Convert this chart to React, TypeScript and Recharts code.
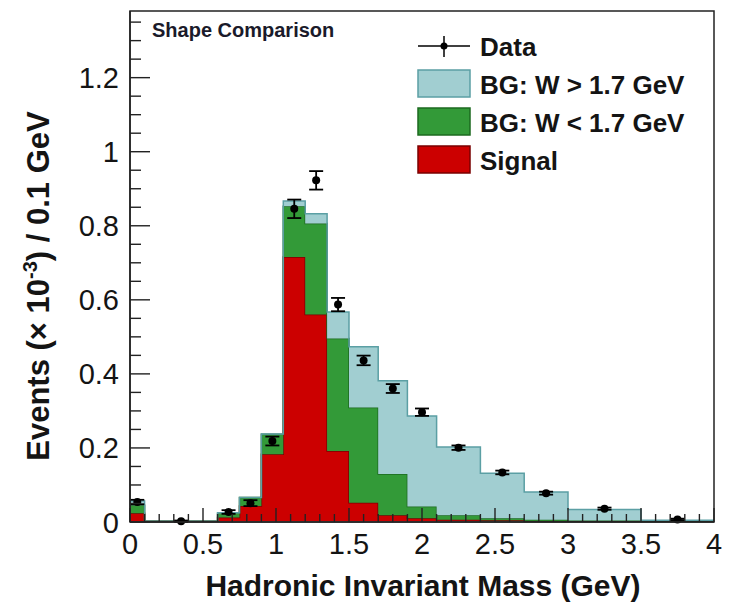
import React from "react";
import { ComposedChart, Area, Scatter, ErrorBar, XAxis, YAxis } from "recharts";

// Histogram bin edges (GeV) and stacked component heights (x10^-3 events / 0.1 GeV)
const binEdges = [0, 0.1, 0.6, 0.75, 0.9, 1.05, 1.2, 1.35, 1.5, 1.7, 1.9, 2.1, 2.4, 2.7, 3.0, 3.5, 4.0];
const signal = [0.022, 0, 0.010, 0.041, 0.181, 0.715, 0.559, 0.190, 0.050, 0.016, 0.008, 0.004, 0.003, 0.001, 0.0, 0.0];
const bgLow = [0.021, 0, 0.012, 0.023, 0.054, 0.137, 0.246, 0.304, 0.258, 0.112, 0.032, 0.012, 0.005, 0.003, 0.002, 0.001];
const bgHigh = [0.012, 0, 0.001, 0, 0.001, 0.014, 0.027, 0.072, 0.164, 0.252, 0.245, 0.185, 0.122, 0.075, 0.030, 0.002];

// Data points
const dataX = [0.05, 0.35, 0.675, 0.825, 0.975, 1.125, 1.275, 1.425, 1.6, 1.8, 2.0, 2.25, 2.55, 2.85, 3.25, 3.75];
const dataY = [0.052, 0.0, 0.025, 0.049, 0.217, 0.845, 0.922, 0.586, 0.435, 0.359, 0.295, 0.199, 0.132, 0.076, 0.034, 0.005];
const dataErr = [0.006, 0.002, 0.005, 0.008, 0.012, 0.025, 0.025, 0.018, 0.013, 0.012, 0.010, 0.006, 0.005, 0.004, 0.003, 0.002];

// Axis ticks
const xTicks = Array.from({ length: 41 }, (_, i) => +(i * 0.1).toFixed(2));
const yTicks = Array.from({ length: 28 }, (_, i) => +(i * 0.05).toFixed(2));
const xMajorStep = 0.5;
const yMajorStep = 0.2;
const xDomain = [0, 4];
const yDomain = [0, 1.38];

const legendLabels = ["Data", "BG: W > 1.7 GeV", "BG: W < 1.7 GeV", "Signal"];
const titleText = "Shape Comparison";
const xTitle = "Hadronic Invariant Mass (GeV)";

const histData = binEdges.map((x, i) => {
  const j = Math.min(i, signal.length - 1);
  return { x, signal: signal[j], bgLow: bgLow[j], bgHigh: bgHigh[j] };
});
const pointData = dataX.map((x, i) => ({ x, y: dataY[i], err: dataErr[i] }));

const FONT = "'Liberation Sans', Arial, Helvetica, sans-serif";
const TXT = "#141414";

const W = 736;
const H = 605;
const PL = 130;
const PR = 714;
const PT = 11;
const PB = 522;
const YAXW = 60;
const XAXH = 40;
const MARGIN = { top: PT, right: W - PR, left: PL - YAXW, bottom: H - PB - XAXH };

const isMajor = (v: number, step: number) => Math.abs(v / step - Math.round(v / step)) < 1e-6;

const XTick = (props: any) => {
  const { x, y, payload } = props;
  const v = payload.value;
  const major = isMajor(v, xMajorStep);
  return (
    <g>
      <line x1={x} y1={y} x2={x} y2={y - (major ? 14 : 8)} stroke="#222" strokeWidth={1.4} />
      {major && (
        <text x={x} y={y + 32} textAnchor="middle" fontSize={29} fontFamily={FONT} fill={TXT}>
          {String(v)}
        </text>
      )}
    </g>
  );
};

const YTick = (props: any) => {
  const { x, y, payload } = props;
  const v = payload.value;
  const major = isMajor(v, yMajorStep);
  return (
    <g>
      <line x1={x} y1={y} x2={x + (major ? 20 : 11)} y2={y} stroke="#222" strokeWidth={1.4} />
      {major && (
        <text x={x - 11} y={y + 10.5} textAnchor="end" fontSize={29} fontFamily={FONT} fill={TXT}>
          {String(v)}
        </text>
      )}
    </g>
  );
};

const Dot = (p: any) => <circle cx={p.cx} cy={p.cy} r={4} fill="#000" />;

const axes = (withTicks: boolean) => [
  <XAxis
    key="xa"
    type="number"
    dataKey="x"
    domain={xDomain}
    ticks={xTicks}
    interval={0}
    height={XAXH}
    tickSize={0}
    tickMargin={0}
    tickLine={false}
    axisLine={withTicks ? { stroke: "#222", strokeWidth: 1.5 } : false}
    tick={withTicks ? (p: any) => <XTick {...p} /> : false}
  />,
  <YAxis
    key="ya"
    type="number"
    domain={yDomain}
    ticks={yTicks}
    interval={0}
    width={YAXW}
    tickSize={0}
    tickMargin={0}
    tickLine={false}
    axisLine={withTicks ? { stroke: "#222", strokeWidth: 1.5 } : false}
    tick={withTicks ? (p: any) => <YTick {...p} /> : false}
  />,
];

export default function App() {
  return (
    <div style={{ position: "absolute", left: 0, top: 0, width: W, height: H, background: "#fff" }}>
      <ComposedChart width={W} height={H} data={histData} margin={MARGIN}>
        {axes(false)}
        <Area
          type="stepAfter"
          dataKey="signal"
          stackId="h"
          fill="#cc0000"
          fillOpacity={1}
          stroke="#7a0000"
          strokeWidth={1.5}
          dot={false}
          activeDot={false}
          isAnimationActive={false}
        />
        <Area
          type="stepAfter"
          dataKey="bgLow"
          stackId="h"
          fill="#339a38"
          fillOpacity={1}
          stroke="#1c6a1f"
          strokeWidth={1.5}
          dot={false}
          activeDot={false}
          isAnimationActive={false}
        />
        <Area
          type="stepAfter"
          dataKey="bgHigh"
          stackId="h"
          fill="#a1ced1"
          fillOpacity={1}
          stroke="#5b9fa4"
          strokeWidth={1.5}
          dot={false}
          activeDot={false}
          isAnimationActive={false}
        />
        <Scatter data={pointData} dataKey="y" shape={<Dot />} isAnimationActive={false}>
          <ErrorBar dataKey="err" direction="y" width={7} stroke="#000" strokeWidth={1.8} isAnimationActive={false} />
        </Scatter>
      </ComposedChart>
      {/* Axes layer drawn over the histogram, as in the original (ticks point inward) */}
      <div style={{ position: "absolute", left: 0, top: 0, pointerEvents: "none" }}>
        <ComposedChart width={W} height={H} data={histData} margin={MARGIN}>
          {axes(true)}
          <Area
            type="stepAfter"
            dataKey="signal"
            fill="none"
            stroke="none"
            dot={false}
            activeDot={false}
            isAnimationActive={false}
          />
        </ComposedChart>
      </div>
      <svg
        width={W}
        height={H}
        style={{ position: "absolute", left: 0, top: 0, pointerEvents: "none" }}
      >
        <rect x={PL} y={PT} width={PR - PL} height={PB - PT} fill="none" stroke="#222" strokeWidth={1.5} />
        <text x={152} y={37} fontSize={20} fontWeight="bold" fontFamily={FONT} fill="#1a1a2a">
          {titleText}
        </text>
        {/* Legend */}
        <line x1={418} y1={46} x2={470} y2={46} stroke="#000" strokeWidth={1.5} />
        <line x1={444} y1={36} x2={444} y2={57} stroke="#000" strokeWidth={1.5} />
        <circle cx={444} cy={46} r={3.5} fill="#000" />
        <rect x={418} y={70} width={52} height={27} fill="#a1ced1" stroke="#5b9fa4" strokeWidth={1.5} />
        <rect x={418} y={108} width={52} height={27} fill="#339a38" stroke="#1c6a1f" strokeWidth={1.5} />
        <rect x={418} y={146} width={52} height={27} fill="#cc0000" stroke="#7a0000" strokeWidth={1.5} />
        {legendLabels.map((t, i) => (
          <text key={t} x={480} y={56 + i * 38} fontSize={26} fontWeight="bold" fontFamily={FONT} fill={TXT}>
            {t}
          </text>
        ))}
        <text x={423} y={596} textAnchor="middle" fontSize={30} fontWeight="bold" fontFamily={FONT} fill={TXT}>
          {xTitle}
        </text>
        <text
          transform="translate(49,286) rotate(-90)"
          textAnchor="middle"
          fontSize={31}
          fontWeight="bold"
          fontFamily={FONT}
          fill={TXT}
        >
          Events (× 10
          <tspan dy={-12} fontSize={20}>-3</tspan>
          <tspan dy={12}>) / 0.1 GeV</tspan>
        </text>
      </svg>
    </div>
  );
}
